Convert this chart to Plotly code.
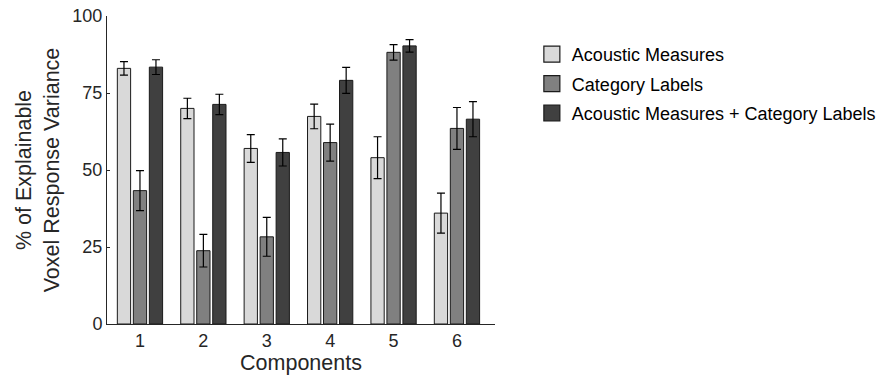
import plotly.graph_objects as go

components = ["1", "2", "3", "4", "5", "6"]
series_names = ["Acoustic Measures", "Category Labels", "Acoustic Measures + Category Labels"]
acoustic = [83.0, 70.0, 57.0, 67.4, 54.0, 36.0]
acoustic_err = [2.2, 3.3, 4.5, 4.0, 6.8, 6.5]
category = [43.3, 23.8, 28.3, 58.9, 88.2, 63.5]
category_err = [6.5, 5.3, 6.3, 6.0, 2.5, 6.8]
combined = [83.4, 71.3, 55.7, 79.1, 90.3, 66.5]
combined_err = [2.4, 3.3, 4.4, 4.2, 2.0, 5.7]
y_ticks = [0, 25, 50, 75, 100]

colors = ["#d9d9d9", "#808080", "#404040"]
values = [acoustic, category, combined]
errors = [acoustic_err, category_err, combined_err]

x_num = [int(c) for c in components]

fig = go.Figure()
for name, vals, errs, col in zip(series_names, values, errors, colors):
    fig.add_trace(go.Bar(
        x=x_num, y=vals, name=name, showlegend=False,
        marker=dict(color=col, line=dict(color="#1a1a1a", width=1)),
        error_y=dict(type="data", array=errs, color="#000000", thickness=1.2, width=4),
    ))
for i, (name, col) in enumerate(zip(series_names, colors)):
    fig.add_trace(go.Scatter(
        x=[None], y=[None], name=name, mode="markers",
        legendgroup=f"g{i}",
        marker=dict(symbol="square", size=16, color=col, line=dict(color="#1a1a1a", width=1.2)),
    ))

font_family = "Liberation Sans, Arial, sans-serif"
fig.update_layout(
    width=894, height=377,
    margin=dict(l=107, r=399, t=16, b=53),
    paper_bgcolor="white", plot_bgcolor="white",
    barmode="group", bargap=0.243, bargroupgap=0.17,
    font=dict(family=font_family, size=18, color="#262626"),
    legend=dict(
        x=1.095, y=0.935, xanchor="left", yanchor="top",
        font=dict(size=18, color="#000000"),
        traceorder="grouped", tracegroupgap=3,
        bgcolor="rgba(0,0,0,0)",
    ),
    xaxis=dict(
        automargin=False,
        range=[0.48, 6.6], tickmode="array", tickvals=x_num, ticktext=components,
        showline=True, linecolor="#262626", linewidth=1, showgrid=False, zeroline=False,
        ticks="", tickfont=dict(size=18, color="#262626"),
        title=dict(text="Components", font=dict(size=21.5, color="#262626"), standoff=5),
    ),
    yaxis=dict(
        automargin=False,
        range=[0, 100], tickmode="array", tickvals=y_ticks,
        showline=True, linecolor="#262626", linewidth=1, showgrid=False, zeroline=False,
        ticks="inside", ticklen=3, tickcolor="#262626",
        tickfont=dict(size=18, color="#262626"),
        title=dict(text="% of Explainable<br>Voxel Response Variance",
                   font=dict(size=21.5, color="#262626"), standoff=6),
    ),
)

fig.write_html("out.html", config={"displayModeBar": False},
               post_script="document.body.style.margin='0';")
